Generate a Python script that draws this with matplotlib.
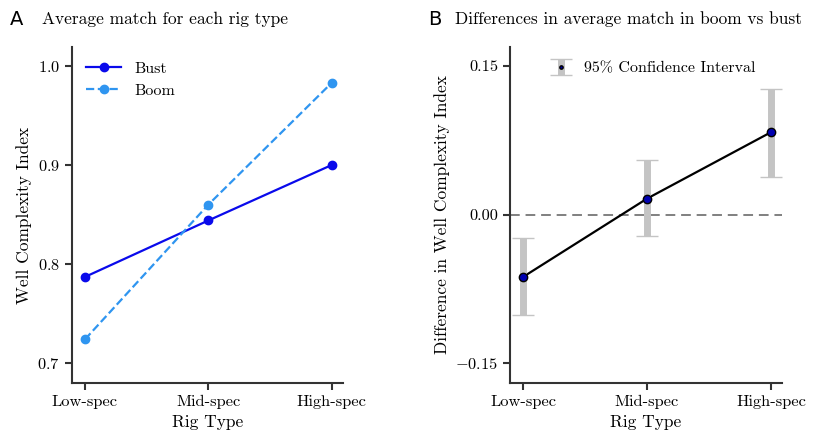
import numpy as np
import matplotlib
matplotlib.use('Agg')
import matplotlib.pyplot as plt

plt.rcParams['font.family'] = 'cmr10'
plt.rcParams['mathtext.fontset'] = 'cm'
plt.rcParams['axes.formatter.use_mathtext'] = True
plt.rcParams['axes.unicode_minus'] = True

rig_types = ['Low-spec', 'Mid-spec', 'High-spec']
bust = [0.787, 0.844, 0.900]
boom = [0.724, 0.860, 0.983]

diff = [-0.063, 0.016, 0.083]
ci_low = [-0.101, -0.022, 0.038]
ci_high = [-0.024, 0.055, 0.127]

x = np.arange(len(rig_types))

fig = plt.figure(figsize=(8.32, 4.34), dpi=100)
ax1 = fig.add_axes([0.0865, 0.1175, 0.3257, 0.7742])
ax2 = fig.add_axes([0.613, 0.1175, 0.327, 0.7742])

# panel A
ax1.plot(x, bust, '-o', color='#0a0aeb', lw=1.6, ms=6, label='Bust')
ax1.plot(x, boom, '--o', color='#2f95f0', lw=1.6, ms=6, label='Boom')
ax1.set_ylim(0.68, 1.019)
ax1.set_yticks([0.7, 0.8, 0.9, 1.0])
ax1.set_ylabel('Well Complexity Index', fontsize=12.5)
ax1.legend(loc='upper left', frameon=False, fontsize=11.5, handlelength=2.2,
           bbox_to_anchor=(0.0, 1.0))

# panel B
yerr = np.array([np.array(diff) - np.array(ci_low), np.array(ci_high) - np.array(diff)])
ax2.axhline(0, color='grey', ls='--', lw=1.4, dashes=(5, 3))
ax2.plot(x, diff, '-', color='black', lw=1.6)
ax2.errorbar(x, diff, yerr=yerr, fmt='o', color='#0000b0', mec='black', mew=1.0,
             ms=6, ecolor='#c4c4c4', elinewidth=5, capsize=8, capthick=1.5,
             label='95% Confidence Interval', zorder=3)
ax2.set_ylim(-0.17, 0.169)
ax2.set_yticks([-0.15, 0.0, 0.15])
ax2.set_yticklabels(['$-$0.15', '0.00', '0.15'])
ax2.set_ylabel('Difference in Well Complexity Index', fontsize=12.5)
ax2.legend(loc='upper left', frameon=False, fontsize=11.5, markerscale=0.4,
           handlelength=1.2, bbox_to_anchor=(0.1, 1.0))

for ax in (ax1, ax2):
    ax.set_xlim(-0.105, 2.09)
    ax.set_xticks(x)
    ax.set_xticklabels(rig_types)
    ax.set_xlabel('Rig Type', fontsize=12.5)
    ax.spines['top'].set_visible(False)
    ax.spines['right'].set_visible(False)
    for s in ('left', 'bottom'):
        ax.spines[s].set_linewidth(1.5)
        ax.spines[s].set_color('#333333')
    ax.tick_params(width=1.5, length=5, labelsize=11.8, color='#333333')

fig.text(0.012, 0.955, 'A', fontsize=14, family='DejaVu Sans', va='center')
fig.text(0.05, 0.955, 'Average match for each rig type', fontsize=12.5, va='center')
fig.text(0.514, 0.955, 'B', fontsize=14, family='DejaVu Sans', va='center')
fig.text(0.547, 0.955, 'Differences in average match in boom vs bust', fontsize=12.5, va='center')

fig.savefig('out.png', dpi=100)
